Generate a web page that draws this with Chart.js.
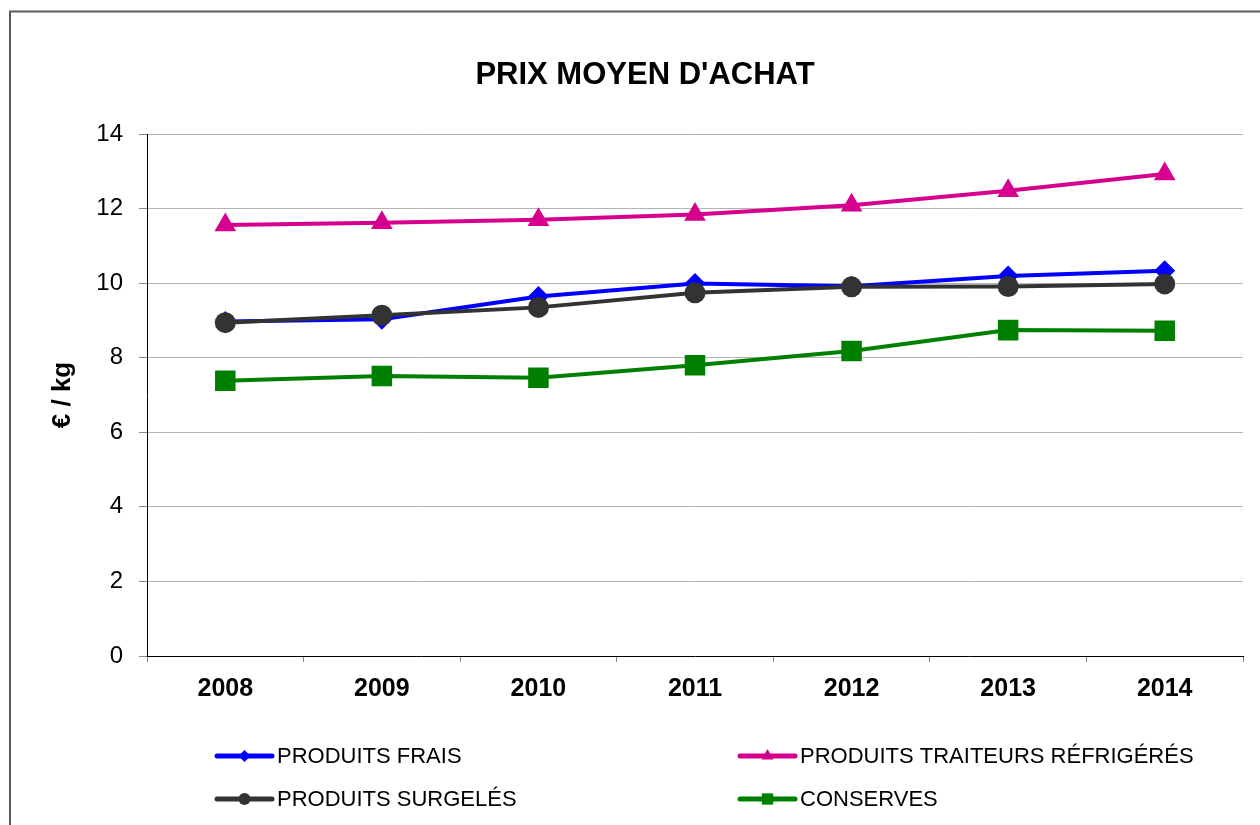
<!DOCTYPE html>
<html>
<head>
<meta charset="utf-8">
<title>Prix moyen d'achat</title>
<script src="https://cdn.jsdelivr.net/npm/chart.js@4/dist/chart.umd.min.js"></script>
<style>
  html, body { margin: 0; padding: 0; background: #fff; }
  canvas { display: block; }
</style>
</head>
<body>
<canvas id="myChart" width="1260" height="825"></canvas>
<script>
// chart data
const years = ['2008', '2009', '2010', '2011', '2012', '2013', '2014'];
const produitsFrais = [8.97, 9.03, 9.64, 9.99, 9.92, 10.19, 10.33];
const traiteursRefrigeres = [11.56, 11.62, 11.70, 11.84, 12.09, 12.48, 12.93];
const produitsSurgeles = [8.94, 9.14, 9.35, 9.74, 9.90, 9.91, 9.98];
const conserves = [7.38, 7.51, 7.46, 7.80, 8.18, 8.74, 8.72];
const yTicks = [0, 2, 4, 6, 8, 10, 12, 14];

Chart.defaults.font.family = '"Liberation Sans", Arial, sans-serif';
Chart.defaults.color = '#000';

// grey frame round the whole chart, like the Excel chart area
const frame = {
  id: 'frame',
  beforeDraw(chart) {
    const ctx = chart.ctx;
    ctx.save();
    ctx.fillStyle = '#fff';
    ctx.fillRect(0, 0, chart.width, chart.height);
    ctx.strokeStyle = '#5a5a5a';
    ctx.lineWidth = 2;
    ctx.strokeRect(10, 11.5, chart.width + 20, chart.height + 20);
    ctx.restore();
  }
};

// two column legend under the axis
const legendGrid = {
  id: 'legendGrid',
  afterDraw(chart) {
    const ctx = chart.ctx;
    ctx.save();
    chart.data.datasets.forEach((ds, i) => {
      const x = i % 2 === 0 ? 217 : 740;
      const y = i < 2 ? 756 : 799;
      ctx.strokeStyle = ds.legendColor;
      ctx.fillStyle = ds.legendColor;
      ctx.lineWidth = 5;
      ctx.lineCap = 'round';
      ctx.beginPath();
      ctx.moveTo(x, y);
      ctx.lineTo(x + 55, y);
      ctx.stroke();
      Chart.helpers.drawPoint(ctx, {
        pointStyle: ds.pointStyle,
        radius: ds.legendRadius,
        rotation: 0,
        borderWidth: 0
      }, x + 27.5, y);
      ctx.font = '22px "Liberation Sans", Arial, sans-serif';
      ctx.textBaseline = 'middle';
      ctx.textAlign = 'left';
      ctx.fillStyle = '#000';
      ctx.fillText(ds.label, x + 60, y + 1);
    });
    ctx.restore();
  }
};

function makeDataset(label, values, color, style, radius, legendRadius, order) {
  return {
    label: label,
    data: values,
    borderColor: color,
    backgroundColor: color,
    legendColor: color,
    borderWidth: 4,
    tension: 0,
    pointStyle: style,
    pointRadius: radius,
    pointHoverRadius: radius,
    pointBorderWidth: 0,
    pointBackgroundColor: color,
    legendRadius: legendRadius,
    order: order
  };
}

const chartData = {
  labels: years,
  datasets: [
    makeDataset('PRODUITS FRAIS', produitsFrais, '#0000ff', 'rectRot', 10.5, 6, 4),
    makeDataset('PRODUITS TRAITEURS RÉFRIGÉRÉS', traiteursRefrigeres, '#d6008f', 'triangle', 12.5, 7, 3),
    makeDataset('PRODUITS SURGELÉS', produitsSurgeles, '#333333', 'circle', 10.5, 6, 2),
    makeDataset('CONSERVES', conserves, '#008000', 'rect', 14.5, 8, 1)
  ]
};

const lineConfig = {
  type: 'line',
  data: chartData,
  plugins: [frame, legendGrid],
  options: {
    responsive: false,
    animation: false,
    layout: { padding: { top: 0, left: 47, right: 17, bottom: 109 } },
    plugins: {
      legend: { display: false },
      tooltip: { enabled: false },
      title: {
        display: true,
        text: "PRIX MOYEN D'ACHAT",
        color: '#000',
        font: { size: 31, weight: 'bold' },
        padding: { top: 56.4, bottom: 40.4 }
      }
    },
    scales: {
      x: {
        offset: true,
        afterFit(scale) { scale.height = 60; },
        grid: {
          offset: true,
          drawOnChartArea: false,
          drawTicks: true,
          tickLength: 6,
          tickColor: '#888'
        },
        border: { color: '#000', width: 1 },
        ticks: { font: { size: 25, weight: 'bold' }, color: '#000', padding: 12 }
      },
      y: {
        min: 0,
        max: 14,
        afterFit(scale) { scale.width = 100; },
        afterBuildTicks(scale) { scale.ticks = yTicks.map(v => ({ value: v })); },
        grid: {
          color: ctx => ctx.tick && ctx.tick.value === 0 ? 'rgba(0,0,0,0)' : '#b4b4b4',
          tickColor: '#888',
          tickLength: 8
        },
        border: { color: '#000', width: 1 },
        ticks: { font: { size: 24 }, color: '#000', padding: 16 },
        title: {
          display: true,
          text: '€ / kg',
          color: '#000',
          font: { size: 26, weight: 'bold' },
          padding: { top: 0, bottom: 0 }
        }
      }
    }
  }
};

const myChart = new Chart(document.getElementById('myChart'), lineConfig);
</script>
</body>
</html>
